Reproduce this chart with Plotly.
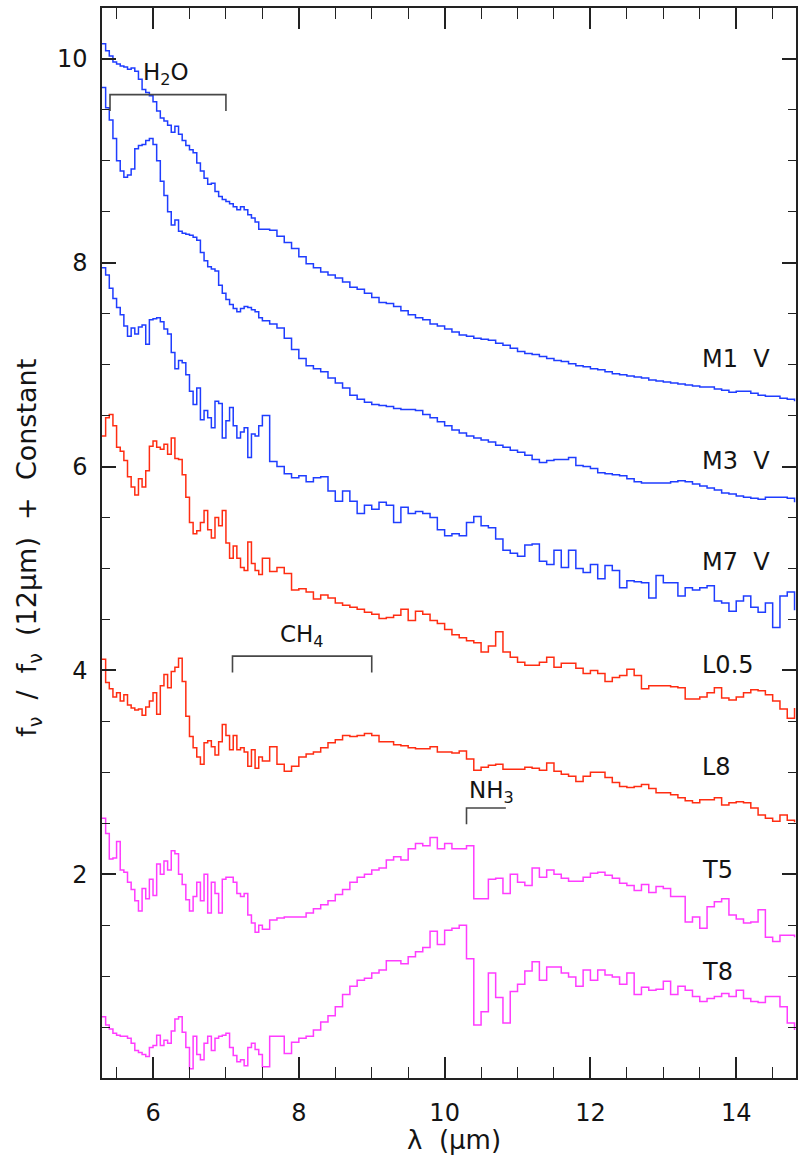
import numpy as np
import plotly.graph_objects as go

# Wavelength sampling grid (micron): 0.05 step to 7.5, then 0.1 step
wave = np.round(np.r_[np.arange(5.30, 7.501, 0.05), np.arange(7.6, 14.801, 0.1)], 2)

m1v = [10.15, 10.08, 10.03, 9.97, 9.95, 9.93, 9.92, 9.90, 9.91, 9.88, 9.80, 9.70, 9.67, 9.64, 9.58,
       9.49, 9.42, 9.39, 9.35, 9.28, 9.34, 9.26, 9.20, 9.15, 9.11, 9.08, 8.98, 8.90, 8.83, 8.77,
       8.78, 8.70, 8.65, 8.62, 8.60, 8.58, 8.55, 8.52, 8.55, 8.52, 8.47, 8.44, 8.40, 8.33, 8.33,
       8.32, 8.26, 8.20, 8.14, 8.06, 7.99, 7.95, 7.91, 7.88, 7.85, 7.81, 7.76, 7.74, 7.70, 7.66,
       7.61, 7.60, 7.57, 7.53, 7.49, 7.46, 7.44, 7.40, 7.38, 7.35, 7.32, 7.29, 7.28, 7.26, 7.25,
       7.24, 7.21, 7.19, 7.16, 7.13, 7.11, 7.10, 7.08, 7.06, 7.04, 7.03, 7.01, 6.99, 6.98, 6.96,
       6.95, 6.93, 6.91, 6.90, 6.89, 6.88, 6.87, 6.85, 6.84, 6.83, 6.82, 6.81, 6.80, 6.79, 6.78,
       6.78, 6.76, 6.75, 6.73, 6.74, 6.74, 6.72, 6.70, 6.69, 6.69, 6.67, 6.66, 6.64]

m3v = [9.72, 9.52, 9.40, 9.22, 9.00, 8.90, 8.84, 8.86, 8.92, 9.12, 9.15, 9.16, 9.20, 9.22, 9.16,
       9.00, 8.80, 8.66, 8.50, 8.37, 8.42, 8.31, 8.29, 8.28, 8.27, 8.25, 8.22, 8.10, 8.02, 7.96,
       7.94, 7.92, 7.78, 7.70, 7.64, 7.59, 7.55, 7.52, 7.55, 7.57, 7.56, 7.54, 7.52, 7.46, 7.43,
       7.40, 7.36, 7.26, 7.15, 7.06, 6.99, 6.96, 6.93, 6.87, 6.82, 6.77, 6.70, 6.66, 6.63, 6.61,
       6.60, 6.59, 6.57, 6.56, 6.56, 6.55, 6.51, 6.48, 6.44, 6.40, 6.36, 6.33, 6.30, 6.28, 6.26,
       6.24, 6.21, 6.19, 6.16, 6.14, 6.11, 6.07, 6.04, 6.06, 6.07, 6.07, 6.09, 6.01, 6.00, 5.98,
       5.94, 5.93, 5.92, 5.91, 5.88, 5.85, 5.84, 5.84, 5.84, 5.84, 5.85, 5.86, 5.85, 5.83, 5.81,
       5.79, 5.77, 5.74, 5.73, 5.71, 5.70, 5.69, 5.68, 5.70, 5.70, 5.70, 5.69, 5.65]

m7v = [7.95, 7.88, 7.75, 7.65, 7.56, 7.49, 7.38, 7.28, 7.36, 7.30, 7.37, 7.39, 7.20, 7.44, 7.45,
       7.46, 7.42, 7.35, 7.30, 7.12, 6.96, 7.04, 7.02, 6.90, 6.74, 6.61, 6.77, 6.46, 6.55, 6.48,
       6.38, 6.64, 6.62, 6.28, 6.45, 6.58, 6.40, 6.28, 6.34, 6.38, 6.09, 6.32, 6.30, 6.40, 6.50,
       6.05, 6.00, 5.93, 5.89, 5.91, 5.85, 5.89, 5.90, 5.76, 5.66, 5.76, 5.66, 5.54, 5.62, 5.58,
       5.65, 5.62, 5.45, 5.60, 5.54, 5.56, 5.54, 5.50, 5.38, 5.32, 5.34, 5.32, 5.45, 5.51, 5.42,
       5.40, 5.29, 5.18, 5.15, 5.12, 5.23, 5.24, 5.07, 5.04, 5.18, 5.01, 5.18, 5.00, 4.96, 5.04,
       4.90, 5.03, 4.98, 4.81, 4.88, 4.87, 4.86, 4.71, 4.93, 4.86, 4.86, 4.73, 4.81, 4.79, 4.81,
       4.83, 4.68, 4.66, 4.58, 4.68, 4.73, 4.62, 4.57, 4.66, 4.42, 4.73, 4.77, 4.59]

l05 = [6.30, 6.48, 6.51, 6.40, 6.19, 6.15, 6.06, 5.90, 5.80, 5.72, 5.88, 5.80, 5.96, 6.20, 6.25,
       6.19, 6.17, 6.22, 6.12, 6.28, 6.08, 6.07, 5.92, 5.70, 5.45, 5.34, 5.37, 5.45, 5.57, 5.38,
       5.30, 5.50, 5.42, 5.57, 5.25, 5.10, 5.22, 5.10, 5.01, 4.98, 5.26, 5.05, 4.98, 4.94, 5.10,
       4.97, 5.01, 4.95, 4.79, 4.80, 4.77, 4.70, 4.74, 4.71, 4.66, 4.64, 4.62, 4.60, 4.57, 4.55,
       4.51, 4.52, 4.54, 4.60, 4.49, 4.58, 4.55, 4.49, 4.46, 4.40, 4.35, 4.32, 4.29, 4.27, 4.18,
       4.24, 4.38, 4.18, 4.13, 4.08, 4.05, 4.05, 4.08, 4.13, 4.03, 4.07, 4.07, 4.02, 3.97, 4.00,
       3.97, 3.89, 3.93, 3.95, 4.01, 3.95, 3.82, 3.85, 3.85, 3.85, 3.84, 3.83, 3.72, 3.72, 3.74,
       3.78, 3.83, 3.73, 3.71, 3.74, 3.78, 3.81, 3.80, 3.76, 3.70, 3.62, 3.53, 3.63]

l8 = [4.11, 3.88, 3.82, 3.74, 3.78, 3.70, 3.76, 3.66, 3.63, 3.61, 3.62, 3.56, 3.64, 3.70, 3.78,
      3.57, 3.85, 3.96, 3.83, 3.99, 4.03, 4.12, 3.89, 3.55, 3.35, 3.24, 3.15, 3.08, 3.29, 3.31,
      3.25, 3.17, 3.30, 3.47, 3.36, 3.22, 3.36, 3.22, 3.24, 3.20, 3.06, 3.22, 3.04, 3.15, 3.11,
      3.25, 3.08, 3.01, 3.06, 3.15, 3.18, 3.20, 3.24, 3.29, 3.32, 3.36, 3.35, 3.36, 3.38, 3.36,
      3.30, 3.30, 3.27, 3.26, 3.24, 3.23, 3.23, 3.25, 3.20, 3.20, 3.19, 3.21, 3.13, 3.02, 3.05,
      3.07, 3.08, 3.03, 3.03, 3.03, 3.05, 3.04, 3.02, 3.09, 3.01, 2.98, 2.96, 2.91, 2.96, 3.00,
      3.00, 2.95, 2.90, 2.86, 2.85, 2.86, 2.88, 2.84, 2.80, 2.80, 2.78, 2.75, 2.72, 2.70, 2.73,
      2.73, 2.75, 2.68, 2.70, 2.71, 2.70, 2.65, 2.58, 2.55, 2.52, 2.58, 2.53, 2.51]

t5 = [2.55, 2.40, 2.15, 2.16, 2.32, 2.04, 2.02, 1.92, 1.85, 1.74, 1.64, 1.86, 1.76, 1.95, 1.79,
      2.10, 2.00, 2.13, 2.04, 2.23, 2.20, 2.00, 1.90, 1.75, 1.64, 1.78, 1.92, 1.74, 2.00, 1.62,
      1.92, 1.81, 1.62, 1.95, 1.97, 1.97, 1.92, 1.81, 1.78, 1.81, 1.60, 1.52, 1.43, 1.50, 1.46,
      1.55, 1.57, 1.58, 1.58, 1.58, 1.62, 1.66, 1.70, 1.74, 1.80, 1.85, 1.92, 1.97, 2.00, 2.04,
      2.06, 2.14, 2.17, 2.14, 2.25, 2.30, 2.28, 2.36, 2.25, 2.30, 2.25, 2.25, 2.28, 1.76, 1.76,
      1.95, 1.96, 1.81, 2.00, 1.92, 1.89, 2.06, 1.97, 2.04, 2.00, 1.96, 1.93, 1.93, 1.97, 2.01,
      2.02, 1.99, 1.96, 1.91, 1.89, 1.84, 1.90, 1.82, 1.88, 1.86, 1.78, 1.78, 1.53, 1.58, 1.47,
      1.68, 1.73, 1.76, 1.60, 1.56, 1.52, 1.53, 1.65, 1.38, 1.34, 1.40, 1.40, 1.38]

t8 = [0.60, 0.52, 0.48, 0.44, 0.42, 0.41, 0.41, 0.39, 0.34, 0.27, 0.25, 0.23, 0.21, 0.30, 0.32,
      0.42, 0.32, 0.37, 0.34, 0.46, 0.58, 0.60, 0.45, 0.30, 0.09, 0.41, 0.23, 0.18, 0.34, 0.41,
      0.27, 0.39, 0.41, 0.42, 0.44, 0.30, 0.22, 0.16, 0.18, 0.12, 0.30, 0.34, 0.28, 0.23, 0.11,
      0.41, 0.41, 0.24, 0.35, 0.39, 0.41, 0.47, 0.55, 0.61, 0.70, 0.82, 0.90, 0.96, 0.98, 1.03,
      1.06, 1.15, 1.15, 1.12, 1.19, 1.24, 1.28, 1.44, 1.31, 1.45, 1.47, 1.50, 1.17, 0.52, 0.65,
      1.03, 0.79, 0.54, 0.85, 0.92, 1.05, 1.14, 0.96, 1.09, 1.09, 1.03, 0.99, 0.90, 1.06, 0.96,
      1.06, 1.01, 0.99, 0.92, 1.03, 0.82, 0.89, 0.86, 0.87, 0.95, 0.82, 0.90, 0.86, 0.80, 0.75,
      0.78, 0.80, 0.83, 0.80, 0.86, 0.78, 0.75, 0.74, 0.80, 0.80, 0.70, 0.54, 0.47]

series_names = ["M1\u00a0\u00a0V", "M3\u00a0\u00a0V", "M7\u00a0\u00a0V", "L0.5", "L8", "T5", "T8"]
series_vals = [m1v, m3v, m7v, l05, l8, t5, t8]
label_y = [7.06, 6.05, 5.06, 4.05, 3.05, 2.04, 1.04]
label_x = 13.50

BLUE = "#1f3dff"
RED = "#ff2d12"
MAG = "#ff3cff"
series_colors = [BLUE, BLUE, BLUE, RED, RED, MAG, MAG]

FONT = "DejaVu Sans, Liberation Sans, Arial, sans-serif"
TXT = "#141414"

fig = go.Figure()
for name, vals, col in zip(series_names, series_vals, series_colors):
    fig.add_trace(go.Scatter(x=wave, y=vals, mode="lines", name=name,
                             line=dict(color=col, width=1.5, shape="hv"),
                             showlegend=False, hoverinfo="skip"))

# Band brackets (H2O, CH4, NH3)
BR = "#474747"
brackets = [
    dict(x0=5.41, x1=7.00, ytop=9.65, ybot=9.49, right=True),
    dict(x0=7.09, x1=9.00, ytop=4.14, ybot=3.98, right=True),
    dict(x0=10.30, x1=10.84, ytop=2.65, ybot=2.49, right=False),
]
for b in brackets:
    xs = [b["x0"], b["x0"], b["x1"]] + ([b["x1"]] if b["right"] else [])
    ys = [b["ybot"], b["ytop"], b["ytop"]] + ([b["ybot"]] if b["right"] else [])
    path = "M " + " L ".join(f"{x},{y}" for x, y in zip(xs, ys))
    fig.add_shape(type="path", path=path, xref="x", yref="y",
                  line=dict(color=BR, width=1.6))

band_labels = [("H<sub>2</sub>O", 6.18, 9.85), ("CH<sub>4</sub>", 8.04, 4.34), ("NH<sub>3</sub>", 10.64, 2.81)]
for txt, x, y in band_labels:
    fig.add_annotation(x=x, y=y, text=txt, showarrow=False, xanchor="center", yanchor="middle",
                       font=dict(family=FONT, size=23, color=TXT))

for name, y in zip(series_names, label_y):
    fig.add_annotation(x=label_x, y=y, text=name, showarrow=False, xanchor="left", yanchor="middle",
                       font=dict(family=FONT, size=24, color=TXT))

# Axis titles
SP = "\u00a0\u00a0"
ytitle = f"f<sub>ν</sub>{SP}/{SP}f<sub>ν</sub>{SP}(12μm){SP}+{SP}Constant"
fig.add_annotation(xref="paper", yref="paper", x=-0.106, y=0.496, textangle=-90,
                   text=ytitle, showarrow=False,
                   xanchor="center", yanchor="middle", font=dict(family=FONT, size=27, color=TXT))
fig.add_annotation(xref="paper", yref="paper", x=0.507, y=-0.058, text="λ\u00a0\u00a0(μm)", showarrow=False,
                   xanchor="center", yanchor="middle", font=dict(family=FONT, size=26, color=TXT))

fig.update_layout(
    width=798, height=1160,
    margin=dict(l=102, r=0, t=8, b=82),
    paper_bgcolor="white", plot_bgcolor="white",
    font=dict(family=FONT, size=24, color=TXT),
)
fig.update_xaxes(range=[5.3, 14.82], tickvals=[6, 8, 10, 12, 14], ticks="inside", ticklen=21,
                 tickwidth=1.5, tickcolor="#222", showline=True, linecolor="#222", linewidth=1.5,
                 mirror="ticks", showgrid=False, zeroline=False, ticklabelstandoff=12,
                 tickfont=dict(family=FONT, size=24, color=TXT),
                 minor=dict(dtick=0.5, tick0=5.0, ticks="inside", ticklen=11, tickwidth=1.3,
                            tickcolor="#222", showgrid=False))
fig.update_yaxes(range=[0, 10.5], tickvals=[2, 4, 6, 8, 10], ticks="inside", ticklen=14,
                 tickwidth=1.5, tickcolor="#222", showline=True, linecolor="#222", linewidth=1.5,
                 mirror="ticks", showgrid=False, zeroline=False, ticklabelstandoff=8,
                 tickfont=dict(family=FONT, size=24, color=TXT),
                 minor=dict(dtick=0.5, tick0=0, ticks="inside", ticklen=8, tickwidth=1.3,
                            tickcolor="#222", showgrid=False))

fig.write_html("out.html")
